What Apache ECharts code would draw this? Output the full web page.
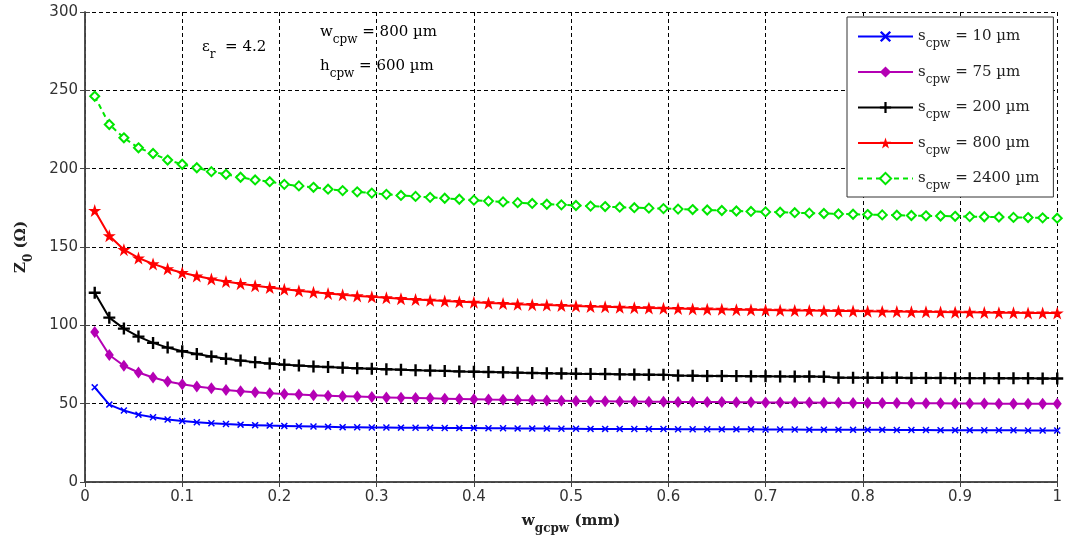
<!DOCTYPE html>
<html>
<head>
<meta charset="utf-8">
<script src="https://cdn.jsdelivr.net/npm/echarts@6/dist/echarts.min.js"></script>
<style>html,body{margin:0;padding:0;background:#fff}#c{width:1065px;height:545px}</style>
</head>
<body>
<div id="c"></div>
<script>
// x values: w_gcpw (mm)
const wgcpw = [0.01,0.025,0.04,0.055,0.07,0.085,0.1,0.115,0.13,0.145,0.16,0.175,0.19,0.205,0.22,0.235,0.25,0.265,0.28,0.295,0.31,0.325,0.34,0.355,0.37,0.385,0.4,0.415,0.43,0.445,0.46,0.475,0.49,0.505,0.52,0.535,0.55,0.565,0.58,0.595,0.61,0.625,0.64,0.655,0.67,0.685,0.7,0.715,0.73,0.745,0.76,0.775,0.79,0.805,0.82,0.835,0.85,0.865,0.88,0.895,0.91,0.925,0.94,0.955,0.97,0.985,1.0];

const s10 = [60.4,49.4,45.6,43.0,41.3,39.9,38.9,38.1,37.5,37.0,36.6,36.3,36.0,35.8,35.6,35.4,35.2,
  35.0,34.9,34.8,34.8,34.7,34.6,34.6,34.5,34.4,34.4,34.3,34.3,34.2,34.1,34.1,34.0,
  34.0,33.9,33.9,33.9,33.8,33.8,33.8,33.7,33.7,33.7,33.6,33.6,33.6,33.5,33.5,33.5,33.4,
  33.4,33.4,33.3,33.3,33.3,33.2,33.2,33.2,33.1,33.1,33.1,33.0,33.0,33.0,32.9,32.9,32.9];

const s75 = [95.8,81.1,74.2,69.9,66.7,64.2,62.4,61.0,59.8,58.8,58.0,57.3,56.7,56.2,55.8,55.4,55.1,
  54.8,54.5,54.2,54.0,53.8,53.6,53.4,53.2,53.0,52.8,52.6,52.5,52.3,52.2,52.0,51.9,
  51.7,51.6,51.5,51.4,51.4,51.3,51.2,51.1,51.1,51.0,51.0,50.9,50.9,50.8,50.8,50.7,50.7,
  50.6,50.6,50.5,50.5,50.5,50.4,50.2,50.2,50.2,50.1,50.1,50.1,50.0,50.0,50.0,49.9,49.9];

const s200 = [120.8,104.9,97.9,92.8,88.8,85.8,83.5,81.7,80.1,78.7,77.5,76.5,75.6,74.9,74.3,73.8,73.4,
  73.0,72.6,72.3,72.0,71.7,71.4,71.1,70.9,70.6,70.4,70.2,70.0,69.8,69.6,69.4,69.3,
  69.1,69.0,68.9,68.7,68.6,68.5,68.4,67.9,67.8,67.7,67.7,67.6,67.5,67.5,67.4,67.3,67.3,
  67.2,66.6,66.6,66.5,66.5,66.5,66.4,66.4,66.4,66.3,66.3,66.3,66.2,66.2,66.2,66.1,66.1];

const s800 = [173.3,157.2,148.3,143.0,139.2,136.1,133.6,131.5,129.6,128.0,126.6,125.3,124.1,123.0,122.0,121.1,120.3,
  119.5,118.8,118.2,117.6,117.0,116.5,116.0,115.5,115.1,114.7,114.3,113.9,113.5,113.2,112.9,112.6,
  112.3,112.0,111.8,111.5,111.3,111.1,110.9,110.7,110.5,110.3,110.2,110.0,109.9,109.8,109.6,109.5,109.4,
  109.3,109.2,109.1,109.0,108.9,108.8,108.7,108.6,108.5,108.4,108.3,108.2,108.1,108.0,107.9,107.9,107.8];

const s2400 = [246.2,228.2,219.7,213.3,209.7,205.5,202.8,200.6,198.1,196.4,194.5,192.8,191.7,190.0,189.0,188.1,186.9,
  186.0,185.2,184.4,183.6,182.9,182.3,181.7,181.1,180.5,179.9,179.3,178.8,178.3,177.8,177.3,176.9,
  176.5,176.1,175.8,175.4,175.1,174.8,174.5,174.2,173.9,173.6,173.3,173.0,172.7,172.4,172.2,171.9,171.6,
  171.4,171.1,170.9,170.7,170.5,170.3,170.1,169.9,169.8,169.6,169.4,169.3,169.1,168.9,168.8,168.6,168.4];

const seriesNames = ['s_cpw = 10 µm','s_cpw = 75 µm','s_cpw = 200 µm','s_cpw = 800 µm','s_cpw = 2400 µm'];
const seriesValues = [s10, s75, s200, s800, s2400];

const xTicks = [0,0.1,0.2,0.3,0.4,0.5,0.6,0.7,0.8,0.9,1];
const yTicks = [0,50,100,150,200,250,300];

const styles = [
  {color:'#0000ff', symbol:'path://M0,1.5 L1.5,0 L5,3.5 L8.5,0 L10,1.5 L6.5,5 L10,8.5 L8.5,10 L5,6.5 L1.5,10 L0,8.5 L3.5,5 Z', size:7, type:'solid'},
  {color:'#b400b4', symbol:'diamond', size:[9,12], type:'solid'},
  {color:'#000000', symbol:'path://M4,0 H6 V4 H10 V6 H6 V10 H4 V6 H0 V4 H4 Z', size:12, type:'solid'},
  {color:'#ff0000', symbol:'path://M50,0 L61.8,35.1 L98.9,35.1 L69,57 L80.3,92.7 L50,71 L19.7,92.7 L31,57 L1.1,35.1 L38.2,35.1 Z', size:13, type:'solid'},
  {color:'#00e600', symbol:'emptyDiamond', size:9, type:[5,4]}
];

const serif = 'DejaVu Serif';
const richSub = {
  m: {fontFamily: serif, fontSize: 15, color:'#222'},
  s: {fontFamily: serif, fontSize: 12, color:'#222', padding:[15,0,0,0]}
};
function subText(str){
  const i = str.indexOf('_');
  const base = str.slice(0,i);
  const rest = str.slice(i+1);
  const sub = rest.split(' ')[0];
  const tail = rest.slice(sub.length);
  return '{m|'+base+'}{s|'+sub+'}{m|'+tail+'}';
}

const chart = echarts.init(document.getElementById('c'), null, {renderer:'canvas'});

const series = seriesNames.map((n,i)=>({
  name:n, type:'line',
  data: wgcpw.map((x,j)=>[x, seriesValues[i][j]]),
  symbol: styles[i].symbol, symbolSize: styles[i].size,
  showAllSymbol: true,
  lineStyle:{color:styles[i].color, width:2, type:styles[i].type},
  itemStyle:{color:styles[i].color, borderColor:styles[i].color, borderWidth: i===4?2.6:0},
  emphasis:{disabled:true},
  z: 3
}));

const axisLineStyle = {lineStyle:{color:'#444', width:1.5}};
const tickLabel = {fontFamily:'DejaVu Sans', fontSize:15, color:'#333'};

chart.setOption({
  animation:false,
  backgroundColor:'#fff',
  grid:{left:85, right:7, top:12, bottom:63, containLabel:false},
  legend:{
    orient:'vertical', left:847, top:17,
    padding:[12,14,5,10], itemGap:14.5,
    itemWidth:55, itemHeight:14,
    backgroundColor:'#fff', borderColor:'#333', borderWidth:1,
    formatter: subText,
    textStyle:{rich:richSub},
    data: seriesNames
  },
  xAxis:[{
    type:'value', min:0, max:1, interval:0.1, position:'bottom',
    axisLine:axisLineStyle,
    axisTick:{inside:true, length:5, lineStyle:{color:'#444'}},
    axisLabel:Object.assign({margin:8, formatter:v=>String(+v.toFixed(1))}, tickLabel),
    splitLine:{show:true, lineStyle:{color:'#000', width:1, type:[4,3]}},
    name:'{m|w}{s|gcpw}{m| (mm)}', nameLocation:'middle', nameGap:26,
    nameTextStyle:{rich:{
      m:{fontFamily:serif, fontSize:15, fontWeight:'bold', color:'#222'},
      s:{fontFamily:serif, fontSize:12, fontWeight:'bold', color:'#222', padding:[15,0,0,0]}
    }}
  },{
    type:'value', min:0, max:1, interval:0.1, position:'top',
    axisLine:axisLineStyle,
    axisTick:{inside:true, length:5, lineStyle:{color:'#444'}},
    axisLabel:{show:false}, splitLine:{show:false}
  }],
  yAxis:[{
    type:'value', min:0, max:300, interval:50, position:'left',
    axisLine:Object.assign({show:true}, axisLineStyle),
    axisTick:{show:true, inside:true, length:5, lineStyle:{color:'#444'}},
    axisLabel:Object.assign({margin:7}, tickLabel),
    splitLine:{show:true, lineStyle:{color:'#000', width:1, type:[4,3]}},
    name:'{m|Z}{s|0}{m| (Ω)}', nameLocation:'middle', nameGap:50, nameRotate:90,
    nameTextStyle:{rich:{
      m:{fontFamily:serif, fontSize:15, fontWeight:'bold', color:'#222'},
      s:{fontFamily:serif, fontSize:12, fontWeight:'bold', color:'#222', padding:[15,0,0,0]}
    }}
  },{
    type:'value', min:0, max:300, interval:50, position:'right',
    axisLine:Object.assign({show:true}, axisLineStyle),
    axisTick:{show:true, inside:true, length:5, lineStyle:{color:'#444'}},
    axisLabel:{show:false}, splitLine:{show:false}
  }],
  graphic:[
    {type:'text', left:202, top:40, style:{text:'{m|ε}{s|r}{m|  = 4.2}', rich:richSub}},
    {type:'text', left:320, top:25, style:{text:'{m|w}{s|cpw}{m| = 800 µm}', rich:richSub}},
    {type:'text', left:320, top:59, style:{text:'{m|h}{s|cpw}{m| = 600 µm}', rich:richSub}}
  ],
  series: series
});
</script>
</body>
</html>
